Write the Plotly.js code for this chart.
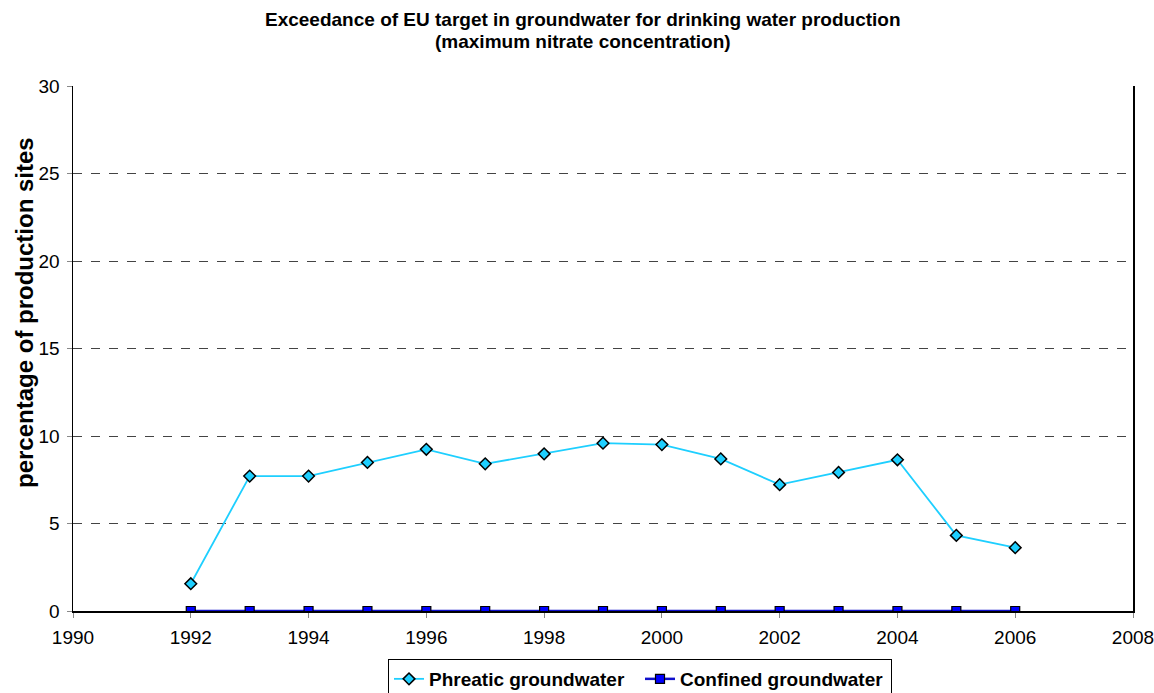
<!DOCTYPE html>
<html>
<head>
<meta charset="utf-8">
<script src="https://cdn.plot.ly/plotly-3.0.1.min.js"></script>
<style>html,body{margin:0;padding:0;background:#fff;}#chart{width:1154px;height:693px;}</style>
</head>
<body>
<div id="chart"></div>
<script>
const years = [1992, 1993, 1994, 1995, 1996, 1997, 1998, 1999, 2000, 2001, 2002, 2003, 2004, 2005, 2006];
const phreatic = [1.56, 7.71, 7.71, 8.49, 9.24, 8.41, 8.98, 9.59, 9.51, 8.69, 7.22, 7.92, 8.64, 4.32, 3.62];
const confined = [0, 0, 0, 0, 0, 0, 0, 0, 0, 0, 0, 0, 0, 0, 0];
const seriesNames = ['Phreatic groundwater', 'Confined groundwater'];
const titleLines = ['Exceedance of EU target in groundwater for drinking water production', '(maximum nitrate concentration)'];
const yTitle = 'percentage of production sites';

const font = 'Liberation Sans, Arial, sans-serif';
const traces = [
  {x: years, y: phreatic, name: seriesNames[0], type: 'scatter', mode: 'lines+markers',
   line: {color: '#1ECFFF', width: 1.8},
   marker: {symbol: 'diamond', size: 9, color: '#1ECFFF', line: {color: '#000', width: 1.5}}},
  {x: years, y: confined, name: seriesNames[1], type: 'scatter', mode: 'lines+markers',
   line: {color: '#1010CC', width: 2.5},
   marker: {symbol: 'square', size: 9, color: '#0000FF', line: {color: '#000', width: 1.2}}}
];
const layout = {
  width: 1154, height: 693,
  paper_bgcolor: '#fff', plot_bgcolor: '#fff',
  margin: {l: 73, r: 21, t: 86, b: 82, autoexpand: false},
  font: {family: font, size: 19, color: '#000'},
  annotations: [
    {text: titleLines[0], xref: 'paper', yref: 'paper', x: 0.481, y: (611 - 19) / 525, xanchor: 'center', yanchor: 'middle',
     showarrow: false, font: {family: font, size: 19, color: '#000', weight: 'bold'}},
    {text: titleLines[1], xref: 'paper', yref: 'paper', x: 0.481, y: (611 - 41) / 525, xanchor: 'center', yanchor: 'middle',
     showarrow: false, font: {family: font, size: 19, color: '#000', weight: 'bold'}},
    {text: yTitle, xref: 'paper', yref: 'paper', x: (24 - 73) / 1060, y: (611 - 313) / 525, xanchor: 'center', yanchor: 'middle',
     textangle: -90, showarrow: false, font: {family: font, size: 24, color: '#000', weight: 'bold'}}
  ],
  xaxis: {range: [1990, 2008], dtick: 2, tick0: 1990, showgrid: false, zeroline: false,
          showline: true, linecolor: '#000', linewidth: 1.5,
          ticks: 'outside', ticklen: 5, tickcolor: '#888', tickwidth: 1, ticklabelstandoff: 4,
          ticklabeloverflow: 'allow',
          tickfont: {family: font, size: 19, color: '#000'}},
  yaxis: {range: [0, 30], dtick: 5, showgrid: true, gridcolor: '#444', griddash: 'dash', gridwidth: 1,
          zeroline: false, showline: true, mirror: true, linecolor: '#000', linewidth: 1.5,
          ticks: 'outside', ticklen: 5, tickcolor: '#888', tickwidth: 1, ticklabelstandoff: 3,
          ticklabeloverflow: 'allow',
          tickfont: {family: font, size: 19, color: '#000'}},
  showlegend: true,
  legend: {orientation: 'h', x: (388 - 73) / 1060, xanchor: 'left', yref: 'container', y: (693 - 659) / 693, yanchor: 'top',
           bordercolor: '#000', borderwidth: 1, bgcolor: '#fff',
           font: {family: font, size: 19, color: '#000', weight: 'bold'},
           itemwidth: 30, entrywidth: 206, tracegroupgap: 0}
};
Plotly.newPlot('chart', traces, layout, {displayModeBar: false, staticPlot: true});
</script>
</body>
</html>
